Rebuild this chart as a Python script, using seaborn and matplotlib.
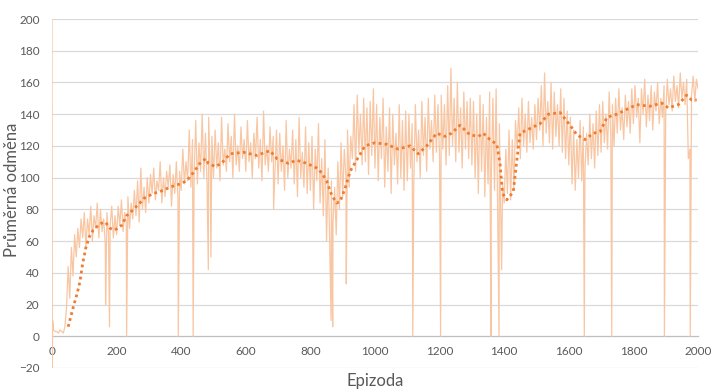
import numpy as np
import pandas as pd
import matplotlib
matplotlib.use("Agg")
import matplotlib.pyplot as plt
import seaborn as sns
from matplotlib.ticker import MultipleLocator

# ---- data ----
# raw average reward every 5 episodes (0..2000)
raw_grid_values = [
    200, 4, 3, 3, 2, 4, 3, 2, 6, 18, 44, 24, 56, 38, 64, 50, 68, 56, 74, 62,
    78, 56, 74, 64, 82, 60, 76, 68, 84, 62, 80, 66, 74, 58, 78, 64, 70, 82, 62, 76,
    64, 82, 70, 86, 66, 78, 72, 88, 68, 84, 74, 92, 76, 98, 72, 106, 80, 94, 78, 100,
    84, 102, 90, 106, 86, 98, 92, 110, 84, 100, 88, 104, 94, 108, 82, 102, 90, 110, 86, 104,
    92, 118, 96, 110, 98, 130, 94, 124, 100, 136, 96, 122, 104, 140, 100, 128, 96, 138, 104, 126,
    100, 130, 106, 122, 98, 138, 108, 118, 104, 134, 110, 126, 100, 140, 108, 120, 104, 132, 112, 124,
    104, 136, 110, 122, 100, 128, 112, 138, 106, 124, 98, 142, 108, 120, 104, 132, 110, 126, 102, 130,
    96, 128, 104, 120, 92, 136, 100, 118, 106, 130, 96, 124, 88, 138, 100, 116, 94, 132, 90, 122,
    92, 126, 80, 118, 98, 134, 84, 112, 76, 124, 60, 106, 56, 98, 72, 94, 64, 110, 80, 122,
    88, 118, 100, 130, 94, 126, 112, 146, 104, 152, 116, 140, 108, 150, 110, 144, 102, 148, 114, 156,
    106, 146, 98, 138, 112, 150, 94, 132, 104, 144, 90, 140, 108, 128, 96, 146, 100, 136, 92, 142,
    98, 140, 106, 134, 96, 146, 110, 130, 100, 148, 114, 138, 104, 150, 118, 136, 110, 152, 116, 146,
    112, 152, 118, 146, 108, 158, 114, 169, 120, 150, 110, 160, 116, 144, 106, 154, 118, 148, 112, 150,
    108, 148, 100, 140, 90, 152, 104, 146, 88, 138, 96, 154, 102, 150, 92, 156, 76, 134, 66, 96,
    84, 118, 90, 130, 86, 124, 92, 136, 118, 144, 112, 150, 120, 140, 116, 148, 122, 138, 118, 146,
    124, 150, 130, 158, 120, 166, 128, 148, 122, 160, 118, 154, 126, 146, 120, 156, 116, 150, 112, 142,
    108, 138, 96, 130, 92, 124, 100, 136, 98, 132, 104, 128, 108, 140, 112, 134, 106, 142, 114, 146,
    116, 148, 122, 140, 118, 154, 126, 146, 120, 150, 128, 156, 130, 144, 124, 152, 132, 148, 128, 156,
    134, 158, 138, 150, 122, 156, 140, 162, 132, 152, 136, 158, 130, 154, 142, 160, 134, 150, 138, 158,
    140, 162, 146, 156, 142, 164, 148, 158, 144, 166, 150, 160, 146, 162, 112, 118, 152, 164, 148, 162,
    156,
]
raw_grid_episodes = list(range(0, 2001, 5))

# extra raw points: start detail and the sharp drops
spike_episodes = [1, 2, 166, 178, 231, 391, 437, 484, 492, 686,
                  864, 869, 911, 1117, 1203, 1359, 1384, 1392, 1648, 1733, 1896, 1976]
spike_values = [-20, 10, 20, 6, 0, 0, 0, 42, 50, 80,
                10, 6, 33, 0, 0, 0, 0, 42, 0, 0, 0, 0]

# moving average (dotted trend line)
ma_episodes = [50, 68, 78, 87, 95, 105, 116, 128, 149, 165, 180, 195, 216, 231, 252,
               272, 285, 314, 345, 365, 396, 417, 437, 458, 476, 484, 505, 525, 551,
               592, 634, 675, 696, 732, 757, 789, 820, 835, 850, 866, 881, 892, 907,
               923, 943, 969, 1000, 1036, 1072, 1108, 1134, 1160, 1191, 1217, 1237,
               1263, 1294, 1320, 1335, 1356, 1377, 1387, 1395, 1408, 1428, 1438, 1449,
               1480, 1511, 1537, 1573, 1604, 1625, 1650, 1676, 1697, 1718, 1749, 1779,
               1810, 1851, 1888, 1908, 1939, 1965, 1980, 1996]
ma_values = [6, 20, 27, 35, 46, 56, 63, 67, 71, 72, 68, 67, 70, 76, 80,
             84, 87, 90, 92, 94, 96, 98, 103, 109, 112, 109, 107, 109, 115,
             116, 114, 117, 112, 109, 111, 109, 106, 103, 98, 89, 84, 85, 93,
             104, 111, 120, 122, 121, 118, 120, 115, 120, 128, 126, 128,
             133, 127, 126, 128, 124, 121, 109, 90, 86, 91, 109, 128,
             131, 134, 140, 141, 133, 127, 124, 128, 129, 138, 140, 143,
             146, 145, 147, 144, 146, 152, 149, 149]

x_ticks = list(range(0, 2001, 200))
y_ticks = list(range(-20, 201, 20))
x_label = "Epizoda"
y_label = "Průměrná odměna"

# ---- build tables ----
raw = pd.DataFrame({
    "ep": raw_grid_episodes + spike_episodes,
    "val": raw_grid_values + spike_values,
}).sort_values("ep", kind="stable").reset_index(drop=True)
ma = pd.DataFrame({"ep": ma_episodes, "val": ma_values})

sns.set_theme(style="white")
plt.rcParams["font.family"] = ["Lato", "DejaVu Sans"]

fig = plt.figure(figsize=(7.13, 3.89), dpi=100)
ax = fig.add_axes([52 / 713, 1 - 368 / 389, 646 / 713, 349 / 389])

grid_c = "#D9D9D9"
text_c = "#595959"

for yv in y_ticks:
    if yv != 0:
        ax.axhline(yv, color=grid_c, lw=0.9, zorder=0)

sns.lineplot(data=raw, x="ep", y="val", ax=ax, color="#F8C6A2", lw=0.9,
             estimator=None, sort=False, zorder=2)
sns.lineplot(data=ma, x="ep", y="val", ax=ax, color="#ED7D31", lw=2.0,
             estimator=None, sort=False, zorder=3, linestyle=(0, (1, 1.2)))

ax.set_xlim(0, 2000)
ax.set_ylim(-20, 200)
ax.set_xticks(x_ticks)
ax.xaxis.set_minor_locator(MultipleLocator(100))
ax.set_yticks(y_ticks)

for s in ["top", "right", "left"]:
    ax.spines[s].set_visible(False)
ax.spines["bottom"].set_position(("data", 0))
ax.spines["bottom"].set_color("#BFBFBF")
ax.spines["bottom"].set_linewidth(0.9)
ax.spines["bottom"].set_zorder(1)

ax.tick_params(axis="x", which="both", direction="out", length=4, width=0.8,
               color="#BFBFBF", labelsize=8.5, labelcolor=text_c, pad=3)
ax.tick_params(axis="y", length=0, labelsize=8.5, labelcolor=text_c, pad=9)

ax.set_xlabel("")
ax.set_ylabel("")
fig.text(52 / 713 + 323 / 713, 1 - 381 / 389, x_label, ha="center", va="center",
         fontsize=12, color=text_c)
fig.text(12 / 713, 1 - 190 / 389, y_label, ha="center", va="center",
         rotation=90, fontsize=12, color=text_c)

fig.savefig("out.png", dpi=100)
